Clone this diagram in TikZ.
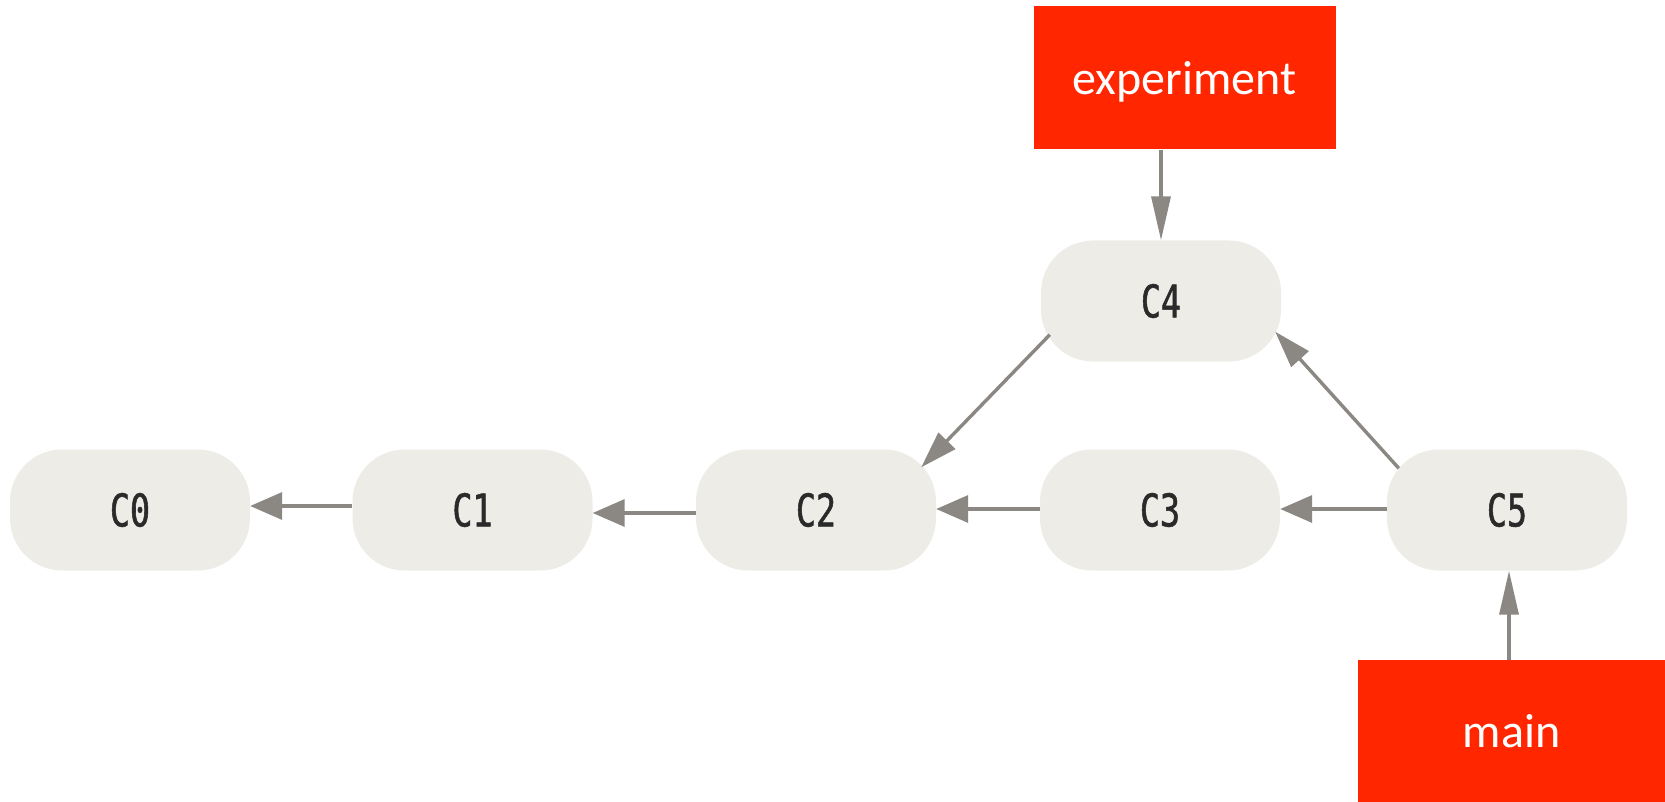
\documentclass[tikz,border=0pt]{standalone}
\usepackage{fontspec}
\usetikzlibrary{arrows.meta}
\newfontfamily\labelfont{Carlito}
\newfontfamily\commitfont[FakeStretch=0.74,FakeBold=1.2]{DejaVu Sans Mono}
\definecolor{commitfill}{HTML}{EDECE6}
\definecolor{linkgrey}{HTML}{8B8883}
\definecolor{branchred}{HTML}{FF2600}
\definecolor{commitink}{HTML}{2A2A2A}

\begin{document}
\begin{tikzpicture}[x=1pt,y=-1pt,
  commit/.style={fill=commitfill, rounded corners=52pt, minimum width=240pt,
    minimum height=121pt, inner sep=0pt, text=commitink,
    font=\commitfont\fontsize{45}{45}\selectfont},
  branch/.style={fill=branchred, minimum width=302pt, minimum height=143pt,
    inner sep=0pt, text depth=0pt, text=white,
    font=\labelfont\fontsize{48}{48}\selectfont},
  link/.style={draw=linkgrey, line width=3.4pt},
  hlink/.style={link, -{Triangle[length=32pt,width=27pt]}},
  vlink/.style={link, -{Triangle[length=44pt,width=19pt]}},
  dlink/.style={link, -{Triangle[length=37pt,width=23pt]}}]

  % canvas
  \useasboundingbox (0,0) rectangle (1665,802);

  % commits
  \node[commit] (C0) at (130,510) {C0};
  \node[commit] (C1) at (472.5,510) {C1};
  \node[commit] (C2) at (816,510) {C2};
  \node[commit] (C3) at (1160,510) {C3};
  \node[commit] (C5) at (1507,510) {C5};
  \node[commit] (C4) at (1161,301) {C4};

  % branch labels
  \node[branch] (exp) at (1184.5,78) {experiment};
  \node[branch, minimum width=307pt, minimum height=142pt] (main) at (1511.5,731) {main};

  % parent links
  \draw[hlink] ([yshift=4pt]C1.west) -- ([yshift=4pt]C0.east);
  \draw[hlink] ([yshift=-3pt]C2.west) -- ([yshift=-3pt]C1.east);
  \draw[hlink] ([yshift=1pt]C3.west) -- ([yshift=1pt]C2.east);
  \draw[hlink] ([yshift=1pt]C5.west) -- ([yshift=1pt]C3.east);
  \draw[dlink] ([shift={(9,-27)}]C4.south west) -- ([shift={(-15,18)}]C2.north east);
  \draw[dlink] ([shift={(12,19)}]C5.north west) -- ([shift={(-6,-30)}]C4.south east);

  % branch pointers
  \draw[vlink] (exp.south -| C4.north) -- (C4.north);
  \draw[vlink] ([xshift=2pt]main.north -| C5.south) -- ([xshift=2pt]C5.south);
\end{tikzpicture}
\end{document}
